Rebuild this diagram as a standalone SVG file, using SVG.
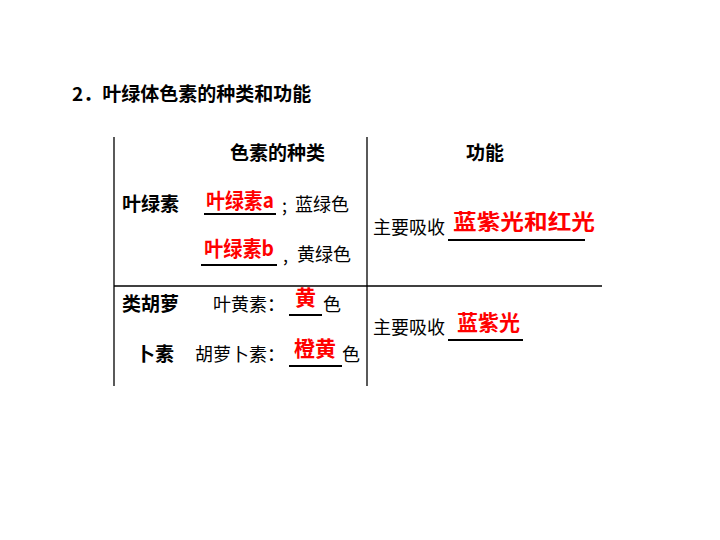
<svg xmlns="http://www.w3.org/2000/svg" width="720" height="540" viewBox="0 0 720 540">
<style>
.b{font-family:"Noto Sans CJK SC",sans-serif;font-weight:bold;font-size:19px;fill:#000}
.n{font-family:"Noto Sans CJK SC",sans-serif;font-size:18px;fill:#000}
.r{font-family:"Noto Sans CJK SC",sans-serif;font-weight:bold;font-size:21px;fill:#f00}
.l{stroke:#000;stroke-width:1.3}
.u{stroke:#000;stroke-width:2}
</style>
<rect width="720" height="540" fill="#fff"/>
<text x="72" y="101" class="b">2．叶绿体色素的种类和功能</text>
<g id="grid">
<line x1="114" y1="137" x2="114" y2="386" class="l"/>
<line x1="367" y1="137" x2="367" y2="386" class="l"/>
<line x1="114" y1="286" x2="602" y2="286" class="l"/>
</g>
<g id="headers">
<text x="230" y="160" class="b">色素的种类</text>
<text x="466" y="160" class="b">功能</text>
</g>
<g id="chlorophyll">
<text x="122" y="211" class="b">叶绿素</text>
<text x="206" y="208" class="r" textLength="68" lengthAdjust="spacingAndGlyphs">叶绿素a</text>
<line x1="204" y1="214" x2="276" y2="214" class="u"/>
<text x="282" y="212" class="n" font-size="14">;</text>
<text x="295" y="211" class="n">蓝绿色</text>
<text x="204" y="256" class="r" textLength="70" lengthAdjust="spacingAndGlyphs">叶绿素b</text>
<line x1="201" y1="265" x2="277" y2="265" class="u"/>
<text x="283" y="262" class="n" font-size="14">,</text>
<text x="297" y="261" class="n">黄绿色</text>
<text x="373" y="234" class="n">主要吸收</text>
<text x="453" y="229" class="r" textLength="142" lengthAdjust="spacingAndGlyphs">蓝紫光和红光</text>
<line x1="448" y1="240" x2="585" y2="240" class="u"/>
</g>
<g id="carotenoid">
<text x="122" y="311" class="b">类胡萝</text>
<text x="136" y="361" class="b">卜素</text>
<text x="213" y="311" class="n">叶黄素：</text>
<text x="295" y="305" class="r">黄</text>
<line x1="289" y1="315" x2="322" y2="315" class="u"/>
<text x="323" y="311" class="n">色</text>
<text x="195" y="361" class="n">胡萝卜素：</text>
<text x="294" y="356" class="r">橙黄</text>
<line x1="289" y1="366" x2="342" y2="366" class="u"/>
<text x="342" y="361" class="n">色</text>
<text x="373" y="334" class="n">主要吸收</text>
<text x="457" y="330" class="r">蓝紫光</text>
<line x1="448" y1="340" x2="523" y2="340" class="u"/>
</g>
</svg>
